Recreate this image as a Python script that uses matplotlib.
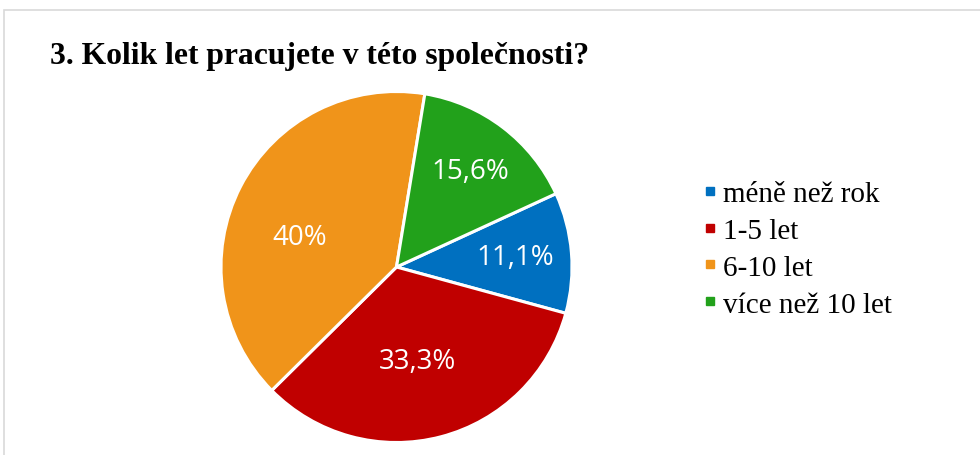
import matplotlib.pyplot as plt
from matplotlib.lines import Line2D
from matplotlib.patches import Rectangle
import numpy as np

title = '3. Kolik let pracujete v této společnosti?'
categories = ['méně než rok', '1-5 let', '6-10 let', 'více než 10 let']
counts = [5, 15, 18, 7]
pct_labels = ['11,1%', '33,3%', '40%', '15,6%']
colors = ['#0070C0', '#C00000', '#F0941A', '#22A11B']

fig = plt.figure(figsize=(9.8, 4.56), dpi=100)

# light frame of the chart area
fig.patches.append(Rectangle((4 / 980, -0.1), 1.1, (456 - 11) / 456 + 0.1,
                             transform=fig.transFigure, fill=False,
                             edgecolor='#D9D9D9', linewidth=1.2))

fig.text(50 / 980, 1 - 64 / 456, title, fontsize=22.8, fontweight='bold',
         family='Liberation Serif', ha='left', va='baseline')

cx, cy, r = 396.5, 268, 175.5
ax = fig.add_axes([(cx - r) / 980, (456 - cy - r) / 456, 2 * r / 980, 2 * r / 456])
wedges, _ = ax.pie(counts, colors=colors, startangle=24.7, counterclock=False,
                   wedgeprops=dict(edgecolor='white', linewidth=2.2))
ax.set_xlim(-1, 1)
ax.set_ylim(-1, 1)

# data label positions (Excel "best fit")
label_r = [0.68, 0.55, 0.58, 0.69]
label_shift = [0, -2, 10, 0]
for w, lab, lr, sh in zip(wedges, pct_labels, label_r, label_shift):
    ang = np.deg2rad((w.theta1 + w.theta2) / 2 + sh)
    ax.text(lr * np.cos(ang), lr * np.sin(ang), lab, color='white',
            fontsize=20, family='Open Sans', ha='center', va='center')

handles = [Line2D([], [], marker='s', linestyle='none', markersize=6,
                  markerfacecolor=c, markeredgecolor=c) for c in colors]
fig.legend(handles, categories, loc='center left',
           bbox_to_anchor=(701 / 980, 1 - 250 / 456), frameon=False,
           prop={'family': 'Liberation Serif', 'size': 21},
           handlelength=0.6, handletextpad=0.16, labelspacing=0.36,
           borderaxespad=0, borderpad=0)

plt.savefig('out.png', dpi=100)
